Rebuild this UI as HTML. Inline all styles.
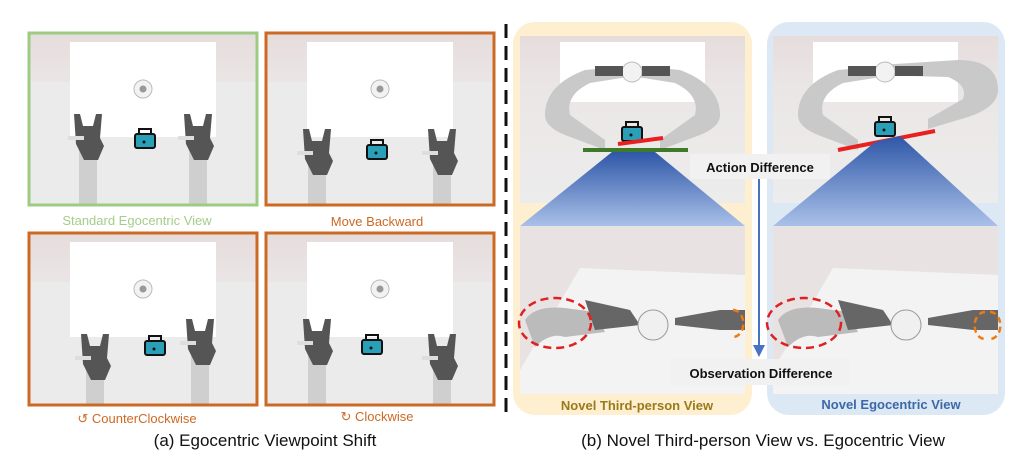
<!DOCTYPE html>
<html><head><meta charset="utf-8"><style>
html,body{margin:0;padding:0;background:#fff;}
svg{display:block;}
text{font-family:"Liberation Sans",sans-serif;}
</style></head><body>
<svg width="1024" height="466" viewBox="0 0 1024 466" xmlns="http://www.w3.org/2000/svg">
<defs>
<clipPath id="pc"><rect x="0" y="0" width="226" height="170"/></clipPath>
<linearGradient id="bg" x1="0" y1="0" x2="0" y2="1">
<stop offset="0" stop-color="#e6dcdc"/><stop offset="0.3" stop-color="#ebe6e6"/><stop offset="1" stop-color="#ececec"/>
</linearGradient>
<linearGradient id="cone" x1="0" y1="0" x2="0" y2="1">
<stop offset="0" stop-color="#2f57a8"/><stop offset="1" stop-color="#a9c0e8"/>
</linearGradient>
<g id="egoimg">
<rect x="0" y="0" width="226" height="170" fill="url(#bg)"/>
<rect x="0" y="48" width="226" height="122" fill="#ebebeb"/>
<rect x="40" y="8" width="146" height="95" fill="#fff"/>
<circle cx="113" cy="55" r="9" fill="#f2f2f2" stroke="#bbb"/><circle cx="113" cy="55" r="3.5" fill="#999"/>
</g>
<g id="arm">
<rect x="-9" y="0" width="18" height="60" fill="#cfcfcf"/>
<path d="M-14,-30 l6,0 l3,12 l10,0 l3,-12 l6,0 l-2,24 l4,8 l-6,14 l-14,0 l-8,-16 z" fill="#555"/>
<rect x="-20" y="-8" width="16" height="4" fill="#ddd"/>
</g>
<g id="bag">
<rect x="-10" y="-6" width="20" height="14" rx="2" fill="#2aa0b8" stroke="#111" stroke-width="2"/>
<path d="M-6,-6 v-5 h12 v5" fill="none" stroke="#111" stroke-width="2"/>
<circle cx="-1" cy="2" r="1.5" fill="#111"/>
</g>
</defs>

<!-- Left panels -->
<g transform="translate(30,34)"><g clip-path="url(#pc)"><use href="#egoimg"/><use href="#arm" transform="translate(58,110)"/><use href="#arm" transform="translate(168,110)"/><use href="#bag" transform="translate(115,106)"/></g></g>
<rect x="29" y="33" width="228" height="172" fill="none" stroke="#9ccc82" stroke-width="3"/>
<g transform="translate(267,34)"><g clip-path="url(#pc)"><use href="#egoimg"/><use href="#arm" transform="translate(50,125)"/><use href="#arm" transform="translate(175,125)"/><use href="#bag" transform="translate(110,117)"/></g></g>
<rect x="266" y="33" width="228" height="172" fill="none" stroke="#cc6a24" stroke-width="3"/>
<g transform="translate(30,234)"><g clip-path="url(#pc)"><use href="#egoimg"/><use href="#arm" transform="translate(65,130)"/><use href="#arm" transform="translate(170,115)"/><use href="#bag" transform="translate(125,113)"/></g></g>
<rect x="29" y="233" width="228" height="172" fill="none" stroke="#cc6a24" stroke-width="3"/>
<g transform="translate(267,234)"><g clip-path="url(#pc)"><use href="#egoimg"/><use href="#arm" transform="translate(50,115)"/><use href="#arm" transform="translate(175,130)"/><use href="#bag" transform="translate(105,112)"/></g></g>
<rect x="266" y="233" width="228" height="172" fill="none" stroke="#cc6a24" stroke-width="3"/>

<text x="137" y="225" font-size="13" fill="#a5cd8a" text-anchor="middle">Standard Egocentric View</text>
<text x="377" y="226" font-size="13" fill="#cc6a24" text-anchor="middle">Move Backward</text>
<text x="137" y="423" font-size="13" fill="#cc6a24" text-anchor="middle">↺ CounterClockwise</text>
<text x="377" y="421" font-size="13" fill="#cc6a24" text-anchor="middle">↻ Clockwise</text>
<text x="265" y="446" font-size="17" fill="#111" text-anchor="middle">(a) Egocentric Viewpoint Shift</text>

<line x1="506" y1="24" x2="506" y2="420" stroke="#111" stroke-width="3" stroke-dasharray="14,8"/>

<!-- Right panels -->
<rect x="513" y="22" width="239" height="393" rx="22" fill="#fdefcf"/>
<rect x="767" y="22" width="238" height="393" rx="22" fill="#dce8f4"/>

<g>
<rect x="520" y="36" width="225" height="167" fill="url(#bg)"/>
<rect x="560" y="42" width="145" height="60" fill="#fff"/>
<path d="M545,115 q0,-30 40,-45 l55,-5 l0,10 l-50,8 q-25,12 -20,32 l35,25 l0,10 l-40,-15 q-20,-8 -20,-20z" fill="#c9c9c9"/>
<path d="M720,115 q0,-30 -40,-45 l-55,-5 l0,10 l50,8 q25,12 20,32 l-35,25 l0,10 l40,-15 q20,-8 20,-20z" fill="#c9c9c9"/>
<circle cx="632" cy="72" r="10" fill="#f2f2f2" stroke="#bbb"/>
<rect x="595" y="66" width="28" height="10" fill="#555"/><rect x="642" y="66" width="28" height="10" fill="#555"/>
</g>
<use href="#bag" transform="translate(632,133)"/>
<line x1="618" y1="144" x2="663" y2="138" stroke="#e82020" stroke-width="4"/>
<line x1="583" y1="150" x2="688" y2="150" stroke="#3e7a2a" stroke-width="4"/>
<polygon points="612,152 655,152 745,226 520,226" fill="url(#cone)"/>

<g transform="translate(253,0)">
<rect x="520" y="36" width="225" height="167" fill="url(#bg)"/>
<rect x="560" y="42" width="145" height="60" fill="#fff"/>
<path d="M545,115 q0,-30 40,-45 l55,-5 l0,10 l-50,8 q-25,12 -20,32 l35,25 l0,10 l-40,-15 q-20,-8 -20,-20z" fill="#c9c9c9"/>
<path d="M745,90 q0,-30 -40,-30 l-80,5 l0,10 l70,2 q20,8 15,22 l-35,20 l0,10 l40,-12 q30,-10 30,-27z" fill="#c9c9c9"/>
<circle cx="632" cy="72" r="10" fill="#f2f2f2" stroke="#bbb"/>
<rect x="595" y="66" width="28" height="10" fill="#555"/><rect x="642" y="66" width="28" height="10" fill="#555"/>
</g>
<use href="#bag" transform="translate(885,128)"/>
<line x1="838" y1="150" x2="935" y2="131" stroke="#e82020" stroke-width="4"/>
<polygon points="875,142 900,136 998,226 773,226" fill="url(#cone)"/>

<!-- bottom images -->
<g>
<rect x="520" y="226" width="225" height="168" fill="#e8e2e2"/>
<polygon points="580,268 745,275 745,394 520,394 520,370" fill="#f3f3f3"/>
<path d="M525,320 q10,-15 40,-12 l30,4 l10,20 l-40,5 q-15,-5 -30,10 z" fill="#bbb"/>
<path d="M585,300 l45,10 l10,15 l-45,5 z" fill="#666"/>
<circle cx="653" cy="325" r="15" fill="#f0f0f0" stroke="#999"/>
<path d="M675,318 l45,-8 l25,0 l0,20 l-25,0 l-45,-5z" fill="#666"/>
</g>
<ellipse cx="555" cy="323" rx="36" ry="25" fill="none" stroke="#e02020" stroke-width="2.5" stroke-dasharray="8,5"/>
<path d="M733,310 a10,13 0 0 1 0,27" fill="none" stroke="#f07a10" stroke-width="2.5" stroke-dasharray="6,4"/>
<g transform="translate(253,0)">
<rect x="520" y="226" width="225" height="168" fill="#e8e2e2"/>
<polygon points="580,268 745,275 745,394 520,394 520,370" fill="#f3f3f3"/>
<path d="M525,320 q10,-15 40,-12 l30,4 l10,20 l-40,5 q-15,-5 -30,10 z" fill="#bbb"/>
<path d="M585,300 l45,10 l10,15 l-45,5 z" fill="#666"/>
<circle cx="653" cy="325" r="15" fill="#f0f0f0" stroke="#999"/>
<path d="M675,318 l45,-8 l25,0 l0,20 l-25,0 l-45,-5z" fill="#666"/>
</g>
<ellipse cx="804" cy="323" rx="37" ry="25" fill="none" stroke="#e02020" stroke-width="2.5" stroke-dasharray="8,5"/>
<path d="M990,312 a10,13 0 0 1 0,27" fill="none" stroke="#f07a10" stroke-width="2.5" stroke-dasharray="6,4"/>
<path d="M985,312 a10,13 0 0 0 0,27" fill="none" stroke="#f07a10" stroke-width="2.5" stroke-dasharray="6,4"/>

<!-- arrow -->
<line x1="759" y1="178" x2="759" y2="346" stroke="#4a72c4" stroke-width="2"/>
<polygon points="753,345 765,345 759,357" fill="#4a72c4"/>
<rect x="690" y="154" width="140" height="25" fill="#f1f1f1"/>
<text x="760" y="172" font-size="13" font-weight="bold" fill="#111" text-anchor="middle">Action Difference</text>
<rect x="670" y="359" width="180" height="26" fill="#f1f1f1"/>
<text x="761" y="378" font-size="13" font-weight="bold" fill="#111" text-anchor="middle">Observation Difference</text>

<text x="637" y="410" font-size="13" font-weight="bold" fill="#9a7a1a" text-anchor="middle">Novel Third-person View</text>
<text x="891" y="409" font-size="13" font-weight="bold" fill="#3d68a8" text-anchor="middle">Novel Egocentric View</text>
<text x="763" y="446" font-size="17" fill="#111" text-anchor="middle">(b) Novel Third-person View vs. Egocentric View</text>
</svg>
</body></html>
